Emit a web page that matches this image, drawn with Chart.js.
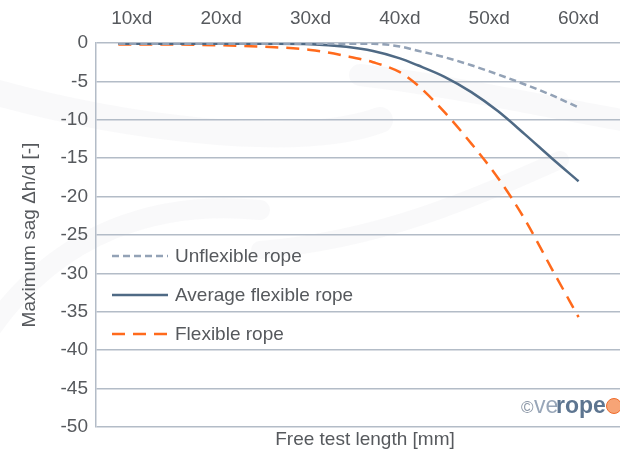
<!DOCTYPE html>
<html>
<head>
<meta charset="utf-8">
<script src="https://cdn.jsdelivr.net/npm/chart.js@4"></script>
<style>
  html, body { margin: 0; padding: 0; background: #fff; overflow: hidden; }
  #wrap { width: 634px; height: 457px; }
</style>
</head>
<body>
<div id="wrap"><canvas id="chart"></canvas></div>
<script>
// free test length in multiples of d
const xLen = [8.5, 14, 20, 26, 30, 34, 37, 40, 42, 45, 48, 51, 54, 57, 60];
const unflexible = [-0.1, -0.1, -0.1, -0.1, -0.1, -0.1, -0.1, -0.45, -1.0, -1.85, -2.9, -4.1, -5.4, -6.8, -8.4];
const average    = [-0.1, -0.1, -0.1, -0.1, -0.15, -0.5, -1.05, -2.0, -2.9, -4.4, -6.4, -8.9, -11.9, -15.0, -18.0];
const flexible   = [-0.2, -0.2, -0.3, -0.55, -0.9, -1.7, -2.5, -3.8, -5.5, -9.0, -13.1, -17.6, -23.0, -29.4, -35.7];
const xTicks = [10, 20, 30, 40, 50, 60];
const yTicks = [0, -5, -10, -15, -20, -25, -30, -35, -40, -45, -50];

const FONT = '"Liberation Sans", Arial, sans-serif';
const TEXT = '#56595d';
const GRID = '#b3bcc7';

const pts = arr => arr.map((y, i) => ({ x: xLen[i], y }));

// faint swirl watermark behind the plot
const watermark = {
  id: 'watermark',
  beforeDraw(chart) {
    const c = chart.ctx;
    c.save();
    c.strokeStyle = 'rgba(110,120,140,0.045)';
    c.lineCap = 'round';
    c.lineWidth = 26;
    c.beginPath();
    c.moveTo(-30, 85);
    c.bezierCurveTo(120, 130, 300, 150, 380, 120);
    c.stroke();
    c.lineWidth = 22;
    c.beginPath();
    c.moveTo(360, 75);
    c.bezierCurveTo(450, 85, 560, 110, 650, 125);
    c.stroke();
    c.lineWidth = 20;
    c.beginPath();
    c.moveTo(-10, 330);
    c.bezierCurveTo(60, 230, 160, 200, 260, 210);
    c.stroke();
    c.lineWidth = 18;
    c.beginPath();
    c.moveTo(260, 250);
    c.bezierCurveTo(380, 240, 470, 200, 560, 160);
    c.stroke();
    c.restore();
  }
};

// legend drawn inside the plot, built from the datasets
const insideLegend = {
  id: 'insideLegend',
  afterDatasetsDraw(chart) {
    const c = chart.ctx;
    const rows = [256, 295, 334];
    c.save();
    chart.data.datasets.forEach((ds, i) => {
      const y = rows[i];
      c.beginPath();
      c.setLineDash(ds.borderDash || []);
      c.strokeStyle = ds.borderColor;
      c.lineWidth = ds.borderWidth;
      c.moveTo(112, y);
      c.lineTo(168, y);
      c.stroke();
      c.setLineDash([]);
      c.fillStyle = TEXT;
      c.font = '19px ' + FONT;
      c.textBaseline = 'middle';
      c.fillText(ds.label, 175, y + 1);
    });

    // brand mark
    c.textBaseline = 'alphabetic';
    c.font = '17px ' + FONT;
    c.fillStyle = '#8a96a6';
    c.fillText('\u00a9', 521, 413);
    c.font = '23px ' + FONT;
    c.fillStyle = '#98a6b8';
    c.fillText('ve', 534, 413);
    c.font = 'bold 23px ' + FONT;
    c.fillStyle = '#5d7590';
    c.fillText('rope', 556, 413);
    c.beginPath();
    c.arc(614, 406, 7.5, 0, Math.PI * 2);
    c.fillStyle = '#f7a476';
    c.fill();
    c.strokeStyle = '#ef6b2a';
    c.lineWidth = 1;
    c.stroke();
    c.restore();
  }
};

new Chart(document.getElementById('chart'), {
  type: 'line',
  data: {
    datasets: [
      {
        label: 'Unflexible rope',
        data: pts(unflexible),
        borderColor: '#93a2b6',
        borderWidth: 2.5,
        borderDash: [7, 4]
      },
      {
        label: 'Average flexible rope',
        data: pts(average),
        borderColor: '#4f6a85',
        borderWidth: 2.5,
        borderDash: []
      },
      {
        label: 'Flexible rope',
        data: pts(flexible),
        borderColor: '#ff6a1c',
        borderWidth: 2.5,
        borderDash: [13, 8]
      }
    ]
  },
  options: {
    responsive: true,
    maintainAspectRatio: false,
    animation: false,
    layout: { padding: { top: 7, left: 0, right: 0, bottom: 0 } },
    elements: {
      point: { radius: 0 },
      line: { cubicInterpolationMode: 'monotone', fill: false }
    },
    plugins: {
      legend: { display: false },
      tooltip: { enabled: false }
    },
    scales: {
      x: {
        type: 'linear',
        position: 'top',
        min: 6,
        max: 66.2,
        afterBuildTicks: s => { s.ticks = xTicks.map(v => ({ value: v })); },
        afterFit: s => { s.height = 36; },
        grid: { display: false, drawTicks: false },
        border: { display: false },
        ticks: {
          padding: 13,
          color: TEXT,
          font: { family: FONT, size: 19 },
          maxRotation: 0,
          callback: v => v + 'xd'
        }
      },
      x2: {
        type: 'linear',
        position: 'bottom',
        min: 6,
        max: 66.2,
        grid: { display: false, drawTicks: false },
        border: { display: false },
        ticks: { display: false },
        afterFit: s => { s.height = 30; },
        title: {
          display: true,
          text: 'Free test length [mm]',
          color: TEXT,
          font: { family: FONT, size: 19 },
          padding: { top: 0, bottom: 5.6 }
        }
      },
      y: {
        min: -50,
        max: 0,
        afterBuildTicks: s => { s.ticks = yTicks.map(v => ({ value: v })); },
        afterFit: s => { s.width = 96; },
        grid: { color: GRID, lineWidth: 1.5, drawTicks: false },
        border: { display: true, color: GRID, width: 1.5 },
        ticks: {
          padding: 8,
          color: TEXT,
          font: { family: FONT, size: 19 },
          callback: v => String(v)
        },
        title: {
          display: true,
          text: 'Maximum sag \u0394h/d [-]',
          color: TEXT,
          font: { family: FONT, size: 19 },
          padding: { top: 18.6, bottom: 0 }
        }
      }
    }
  },
  plugins: [watermark, insideLegend]
});
</script>
</body>
</html>
